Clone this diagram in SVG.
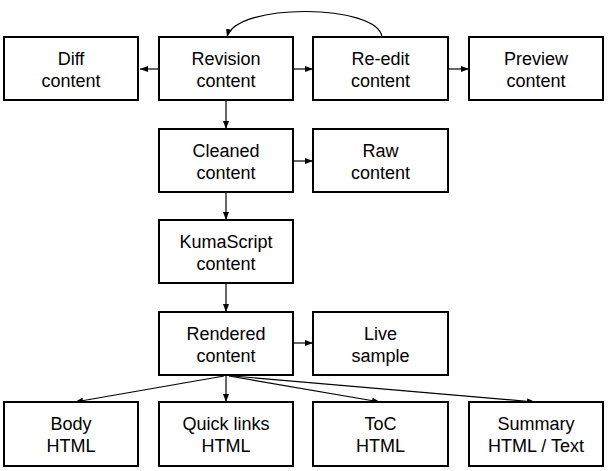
<svg xmlns="http://www.w3.org/2000/svg" width="611" height="471" viewBox="0 0 611 471">
<defs>
<marker id="ah" viewBox="0 0 8 6" refX="8" refY="3" markerWidth="8" markerHeight="6" markerUnits="userSpaceOnUse" orient="auto">
<path d="M0,0 L8,3 L0,6 z" fill="#000"/>
</marker>
<style>
.box{fill:#fff;stroke:#000;stroke-width:2}
.t{font-family:"Liberation Sans",Arial,sans-serif;font-size:18px;fill:#000;text-anchor:middle}
.c{fill:none;stroke:#000;stroke-width:1.2;marker-end:url(#ah)}
</style>
</defs>
<rect width="611" height="471" fill="#fff"/>
<g id="connectors">
<line class="c" x1="159" y1="69" x2="140" y2="69"/>
<line class="c" x1="293" y1="69" x2="313" y2="69"/>
<line class="c" x1="448" y1="69" x2="469" y2="69"/>
<path class="c" d="M382,37 C378,4 236,2 227,37"/>
<line class="c" x1="226" y1="100" x2="226" y2="129"/>
<line class="c" x1="293" y1="161" x2="313" y2="161"/>
<line class="c" x1="226" y1="192" x2="226" y2="220"/>
<line class="c" x1="226" y1="283" x2="226" y2="312"/>
<line class="c" x1="293" y1="343" x2="313" y2="343"/>
<line class="c" x1="224" y1="376" x2="75" y2="402"/>
<line class="c" x1="226" y1="376" x2="226" y2="402"/>
<line class="c" x1="229" y1="376" x2="380" y2="402"/>
<line class="c" x1="233" y1="376" x2="535" y2="402"/>
</g>
<g id="diff"><rect class="box" x="4" y="37" width="134" height="63"/><text class="t" x="71" y="65">Diff</text><text class="t" x="71" y="87">content</text></g>
<g id="revision"><rect class="box" x="159" y="37" width="134" height="63"/><text class="t" x="226" y="65">Revision</text><text class="t" x="226" y="87">content</text></g>
<g id="reedit"><rect class="box" x="313" y="37" width="135" height="63"/><text class="t" x="380.5" y="65">Re-edit</text><text class="t" x="380.5" y="87">content</text></g>
<g id="preview"><rect class="box" x="469" y="37" width="134" height="63"/><text class="t" x="536" y="65">Preview</text><text class="t" x="536" y="87">content</text></g>
<g id="cleaned"><rect class="box" x="159" y="129" width="134" height="63"/><text class="t" x="226" y="157">Cleaned</text><text class="t" x="226" y="179">content</text></g>
<g id="raw"><rect class="box" x="313" y="129" width="135" height="63"/><text class="t" x="380.5" y="157">Raw</text><text class="t" x="380.5" y="179">content</text></g>
<g id="kumascript"><rect class="box" x="159" y="220" width="134" height="63"/><text class="t" x="226" y="248">KumaScript</text><text class="t" x="226" y="270">content</text></g>
<g id="rendered"><rect class="box" x="159" y="312" width="134" height="63"/><text class="t" x="226" y="340">Rendered</text><text class="t" x="226" y="362">content</text></g>
<g id="live"><rect class="box" x="313" y="312" width="135" height="63"/><text class="t" x="380.5" y="340">Live</text><text class="t" x="380.5" y="362">sample</text></g>
<g id="body"><rect class="box" x="4" y="402" width="134" height="64"/><text class="t" x="71" y="430">Body</text><text class="t" x="71" y="452">HTML</text></g>
<g id="quicklinks"><rect class="box" x="159" y="402" width="134" height="64"/><text class="t" x="226" y="430">Quick links</text><text class="t" x="226" y="452">HTML</text></g>
<g id="toc"><rect class="box" x="313" y="402" width="135" height="64"/><text class="t" x="380.5" y="430">ToC</text><text class="t" x="380.5" y="452">HTML</text></g>
<g id="summary"><rect class="box" x="469" y="402" width="134" height="64"/><text class="t" x="536" y="430">Summary</text><text class="t" x="536" y="452">HTML / Text</text></g>
</svg>
